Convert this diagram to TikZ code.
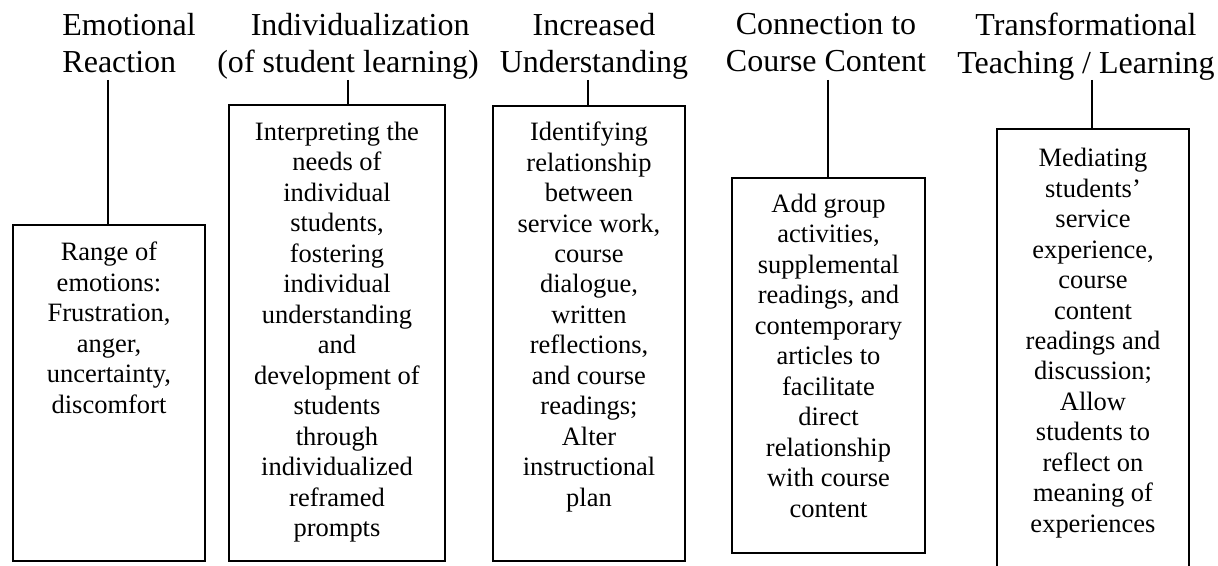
\documentclass[tikz,border=0pt]{standalone}
\usepackage{fontspec}
\setmainfont{Liberation Serif}
\usetikzlibrary{positioning}

\tikzset{
  head/.style={align=center, inner sep=0pt, anchor=north, font=\fontsize{14.5}{16.8}\selectfont},
  box/.style={draw, line width=0.9pt, anchor=north west, inner sep=0pt},
  boxtext/.style={align=center, inner sep=0pt, anchor=north, font=\fontsize{12}{13.8}\selectfont},
  link/.style={line width=0.8pt},
}

\begin{document}
\begin{tikzpicture}[x=0.453pt, y=-0.453pt]
  % one unit is one pixel of the page, y runs downwards
  \def\u{0.453pt}
  \useasboundingbox (0,0) rectangle (1218,566);

  % column headings
  \node[head, anchor=north west, align=left] (h1) at (62,13) {Emotional\\Reaction};
  \node[head] (h2) at (348,13) {\hspace*{11pt}Individualization\\(of student learning)};
  \node[head] (h3) at (594,13) {Increased\\Understanding};
  \node[head] (h4) at (826,13) {Connection to\\Course Content};
  \node[head] (h5) at (1086,13) {Transformational\\Teaching / Learning};

  % boxes (top left corner, width and height in pixels)
  \node[box, minimum width=192*\u, minimum height=336*\u] (b1) at (12,224) {};
  \node[box, minimum width=216*\u, minimum height=456*\u] (b2) at (228,104) {};
  \node[box, minimum width=192*\u, minimum height=455*\u] (b3) at (492,105) {};
  \node[box, minimum width=193*\u, minimum height=375*\u] (b4) at (731,177) {};
  \node[box, minimum width=192*\u, minimum height=460*\u] (b5) at (996,128) {};

  % box texts
  \node[boxtext, below=8pt of b1.north] (t1) {Range of\\emotions:\\Frustration,\\anger,\\uncertainty,\\discomfort};
  \node[boxtext, below=8pt of b2.north] (t2) {Interpreting the\\needs of\\individual\\students,\\fostering\\individual\\understanding\\and\\development of\\students\\through\\individualized\\reframed\\prompts};
  \node[boxtext, below=7.5pt of b3.north] (t3) {Identifying\\relationship\\between\\service work,\\course\\dialogue,\\written\\reflections,\\and course\\readings;\\Alter\\instructional\\plan};
  \node[boxtext, below=7.5pt of b4.north] (t4) {Add group\\activities,\\supplemental\\readings, and\\contemporary\\articles to\\facilitate\\direct\\relationship\\with course\\content};
  \node[boxtext, below=9pt of b5.north] (t5) {Mediating\\students’\\service\\experience,\\course\\content\\readings and\\discussion;\\Allow\\students to\\reflect on\\meaning of\\experiences};

  % lines from headings down to the boxes
  \foreach \i/\x in {1/108, 2/348, 3/588, 4/828, 5/1092} {
    \coordinate (c\i) at (\x,80);
    \draw[link] (c\i) -- (c\i |- b\i.north);
  }
\end{tikzpicture}
\end{document}
